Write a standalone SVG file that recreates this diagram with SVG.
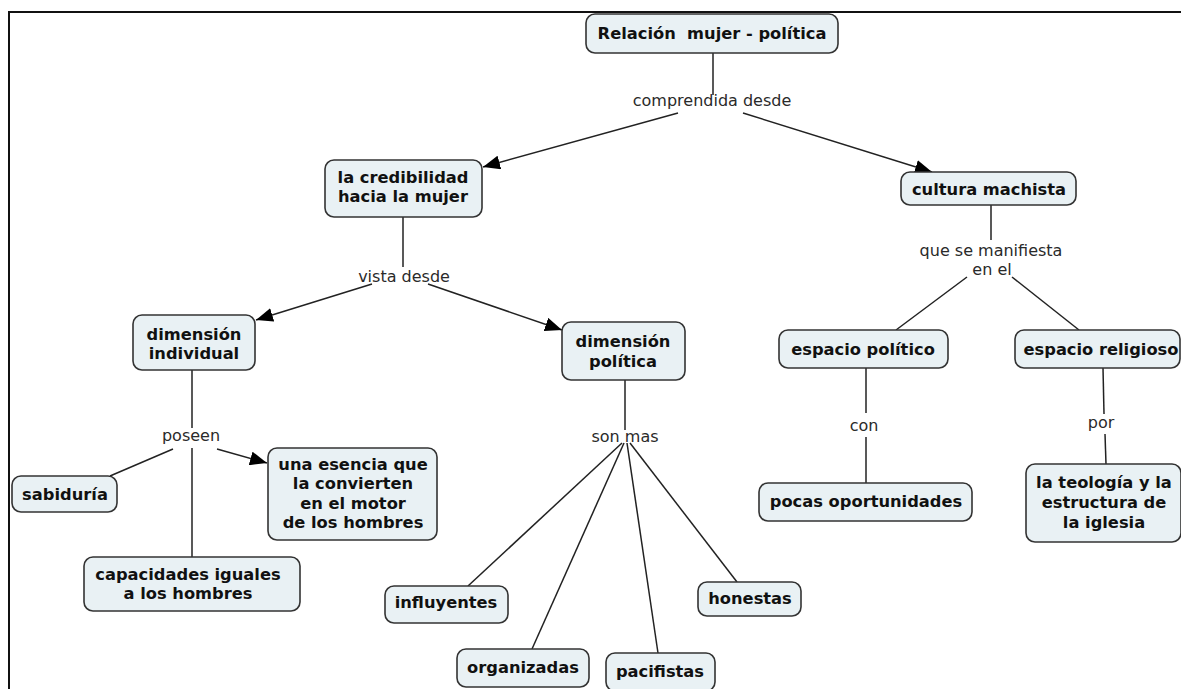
<svg xmlns="http://www.w3.org/2000/svg" width="1181" height="689" viewBox="0 0 1181 689">
<style>
.n rect{fill:#e9f1f4;stroke:#333;stroke-width:1.6}
.n text{font-family:"DejaVu Sans",Verdana,sans-serif;font-weight:bold;font-size:16.3px;fill:#111;text-anchor:middle;white-space:pre}
.l text{font-family:"DejaVu Sans",Verdana,sans-serif;font-size:16px;fill:#2a2a2a;text-anchor:middle}
.c line{stroke:#222;stroke-width:1.5}
.c line.a{marker-end:url(#ah)}
</style>
<defs>
<marker id="ah" markerUnits="userSpaceOnUse" markerWidth="18" markerHeight="14" refX="17" refY="7" orient="auto">
<path d="M0,0 L17,7 L0,14 z" fill="#000"/>
</marker>
</defs>
<rect width="1181" height="689" fill="#fff"/>
<g id="frame" stroke="#111" stroke-width="2">
<line x1="8" y1="12" x2="1181" y2="12"/>
<line x1="9" y1="12" x2="9" y2="689"/>
</g>
<g id="connectors" class="c">
<line x1="713" y1="53" x2="713" y2="95"/>
<line class="a" x1="678" y1="113" x2="483" y2="167"/>
<line class="a" x1="743" y1="113" x2="932" y2="172"/>
<line x1="403" y1="217" x2="403" y2="267"/>
<line class="a" x1="372" y1="284" x2="256" y2="320"/>
<line class="a" x1="428" y1="284" x2="562" y2="330"/>
<line x1="192" y1="370" x2="192" y2="428"/>
<line x1="173" y1="449" x2="110" y2="476"/>
<line x1="192" y1="448" x2="192" y2="557"/>
<line class="a" x1="217" y1="449" x2="267" y2="463"/>
<line x1="625" y1="380" x2="625" y2="430"/>
<line x1="622" y1="443" x2="468" y2="586"/>
<line x1="624" y1="443" x2="532" y2="649"/>
<line x1="627" y1="443" x2="658" y2="653"/>
<line x1="630" y1="443" x2="737" y2="582"/>
<line x1="991" y1="205" x2="991" y2="240"/>
<line x1="967" y1="277" x2="896" y2="330"/>
<line x1="1012" y1="277" x2="1079" y2="330"/>
<line x1="866" y1="368" x2="866" y2="413"/>
<line x1="866" y1="437" x2="866" y2="483"/>
<line x1="1103" y1="368" x2="1104" y2="414"/>
<line x1="1105" y1="434" x2="1106" y2="464"/>
</g>
<g class="l">
<g id="lbl-comprendida"><text x="712" y="106">comprendida desde</text></g>
<g id="lbl-vista"><text x="404" y="282">vista desde</text></g>
<g id="lbl-poseen"><text x="191" y="441">poseen</text></g>
<g id="lbl-sonmas"><text x="625" y="442">son mas</text></g>
<g id="lbl-manifiesta"><text x="991" y="256">que se manifiesta</text><text x="992" y="275">en el</text></g>
<g id="lbl-con"><text x="864" y="431">con</text></g>
<g id="lbl-por"><text x="1101" y="428">por</text></g>
</g>
<g id="n-relacion" class="n"><rect x="586" y="14" width="252" height="39" rx="9"/><text x="712" y="39" xml:space="preserve">Relación  mujer - política</text></g>
<g id="n-credibilidad" class="n"><rect x="325" y="160" width="157" height="57" rx="9"/><text x="403" y="183">la credibilidad</text><text x="403" y="202">hacia la mujer</text></g>
<g id="n-cultura" class="n"><rect x="901" y="172" width="175" height="33" rx="9"/><text x="989" y="195">cultura machista</text></g>
<g id="n-individual" class="n"><rect x="133" y="315" width="122" height="55" rx="9"/><text x="194" y="340">dimensión</text><text x="194" y="359">individual</text></g>
<g id="n-politica" class="n"><rect x="562" y="322" width="123" height="58" rx="9"/><text x="623" y="347">dimensión</text><text x="623" y="367">política</text></g>
<g id="n-esp-politico" class="n"><rect x="779" y="330" width="169" height="38" rx="9"/><text x="863" y="355">espacio político</text></g>
<g id="n-esp-religioso" class="n"><rect x="1015" y="330" width="165" height="38" rx="9"/><text x="1101" y="355">espacio religioso</text></g>
<g id="n-pocas" class="n"><rect x="759" y="483" width="213" height="38" rx="9"/><text x="866" y="507">pocas oportunidades</text></g>
<g id="n-teologia" class="n"><rect x="1026" y="464" width="155" height="78" rx="9"/><text x="1104" y="488">la teología y la</text><text x="1104" y="508">estructura de</text><text x="1104" y="528">la iglesia</text></g>
<g id="n-sabiduria" class="n"><rect x="12" y="476" width="105" height="36" rx="9"/><text x="65" y="500">sabiduría</text></g>
<g id="n-esencia" class="n"><rect x="268" y="448" width="169" height="92" rx="9"/><text x="353" y="470">una esencia que</text><text x="353" y="489">la convierten</text><text x="353" y="509">en el motor</text><text x="353" y="528">de los hombres</text></g>
<g id="n-capacidades" class="n"><rect x="84" y="557" width="216" height="54" rx="9"/><text x="188" y="580">capacidades iguales</text><text x="188" y="599">a los hombres</text></g>
<g id="n-influyentes" class="n"><rect x="385" y="586" width="123" height="37" rx="9"/><text x="446" y="608">influyentes</text></g>
<g id="n-organizadas" class="n"><rect x="457" y="649" width="132" height="38" rx="9"/><text x="523" y="673">organizadas</text></g>
<g id="n-pacifistas" class="n"><rect x="606" y="653" width="109" height="38" rx="9"/><text x="660" y="677">pacifistas</text></g>
<g id="n-honestas" class="n"><rect x="698" y="582" width="103" height="34" rx="9"/><text x="750" y="604">honestas</text></g>
</svg>
